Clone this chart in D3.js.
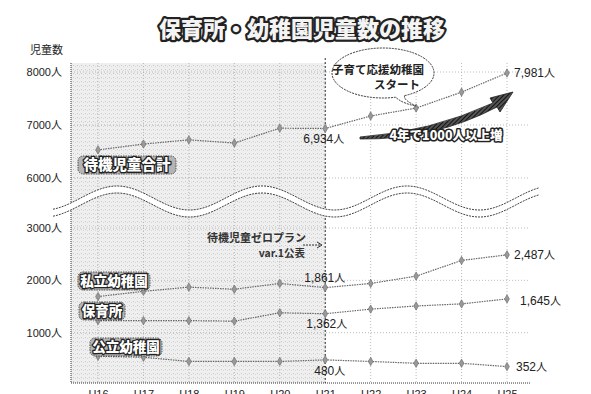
<!DOCTYPE html>
<html>
<head>
<meta charset="utf-8">
<script src="https://cdn.jsdelivr.net/npm/d3@7"></script>
<style>
  html, body { margin: 0; padding: 0; background: #fff; }
  svg { display: block; font-family: "Liberation Sans", "Noto Sans CJK JP", sans-serif; }
</style>
</head>
<body>
<svg id="chart" width="591" height="394"></svg>
<script>
// 年度（平成）
const years = ["H16", "H17", "H18", "H19", "H20", "H21", "H22", "H23", "H24", "H25"];

// 児童数（人）
const totalKids   = [6530, 6640, 6720, 6660, 6940, 6934, 7170, 7320, 7620, 7981];
const privateKg   = [1690, 1790, 1870, 1830, 1940, 1861, 1940, 2080, 2380, 2487];
const nursery     = [1230, 1230, 1230, 1220, 1380, 1362, 1450, 1510, 1550, 1645];
const publicKg    = [550, 530, 450, 450, 450, 480, 450, 415, 415, 352];

// 目盛り（省略線の上下で別）
const upperTicks = [6000, 7000, 8000];
const lowerTicks = [1000, 2000, 3000];

const seriesNames = ["待機児童合計", "私立幼稚園", "保育所", "公立幼稚園"];

const svg = d3.select("#chart");

const plotL = 71, plotR = 530, plotT = 63, plotB = 383;

const x = d3.scalePoint().domain(years).range([98, 507]);
const yTop = d3.scaleLinear().domain([6000, 8000]).range([178, 72]);
const yBot = d3.scaleLinear().domain([0, 3000]).range([385, 228]);

// 網掛け（H16〜H21）
const defs = svg.append("defs");
const grain = defs.append("pattern").attr("id", "grain")
  .attr("width", 4).attr("height", 4).attr("patternUnits", "userSpaceOnUse");
grain.append("rect").attr("width", 4).attr("height", 4).attr("fill", "#efefef");
grain.append("rect").attr("x", 1).attr("y", 1).attr("width", 1).attr("height", 1).attr("fill", "#c8c8c8");
grain.append("rect").attr("x", 3).attr("y", 2).attr("width", 1).attr("height", 1).attr("fill", "#d6d6d6");

const hatch = defs.append("pattern").attr("id", "hatch")
  .attr("width", 3).attr("height", 3).attr("patternUnits", "userSpaceOnUse")
  .attr("patternTransform", "rotate(45)");
hatch.append("rect").attr("width", 3).attr("height", 3).attr("fill", "#555");
hatch.append("rect").attr("width", 1).attr("height", 3).attr("fill", "#111");

svg.append("rect")
  .attr("x", plotL).attr("y", plotT)
  .attr("width", x("H21") - plotL).attr("height", plotB - plotT)
  .attr("fill", "url(#grain)");

// グリッド
const grid = svg.append("g").attr("stroke", "#aaa").attr("stroke-width", 0.8).attr("stroke-dasharray", "1,2");
grid.selectAll("line.v").data(years).join("line")
  .attr("x1", d => x(d)).attr("x2", d => x(d))
  .attr("y1", plotT).attr("y2", plotB);
grid.selectAll("line.hu").data(upperTicks).join("line")
  .attr("x1", plotL).attr("x2", plotR)
  .attr("y1", d => yTop(d)).attr("y2", d => yTop(d));
grid.selectAll("line.hl").data(lowerTicks).join("line")
  .attr("x1", plotL).attr("x2", plotR)
  .attr("y1", d => yBot(d)).attr("y2", d => yBot(d));

// 軸線
svg.append("line").attr("x1", plotL).attr("x2", plotL).attr("y1", plotT).attr("y2", plotB)
  .attr("stroke", "#333").attr("stroke-width", 1).attr("stroke-dasharray", "1,1");
svg.append("line").attr("x1", plotL).attr("x2", plotR).attr("y1", plotB).attr("y2", plotB)
  .attr("stroke", "#333").attr("stroke-width", 1).attr("stroke-dasharray", "1,1");

// H21 の基準線
svg.append("line").attr("x1", x("H21")).attr("x2", x("H21")).attr("y1", 58).attr("y2", plotB)
  .attr("stroke", "#333").attr("stroke-width", 1).attr("stroke-dasharray", "2,2");

// 目盛りラベル
const tickFmt = d => d + "人";
svg.append("g").attr("class", "yaxis").attr("transform", `translate(${plotL - 6},0)`)
  .call(d3.axisLeft(yTop).tickValues(upperTicks).tickFormat(tickFmt).tickSize(0))
  .call(g => g.select(".domain").remove());
svg.append("g").attr("class", "yaxis").attr("transform", `translate(${plotL - 6},0)`)
  .call(d3.axisLeft(yBot).tickValues(lowerTicks).tickFormat(tickFmt).tickSize(0))
  .call(g => g.select(".domain").remove());
svg.selectAll(".yaxis .tick text").attr("font-size", 11).attr("fill", "#222")
  .attr("font-family", "\"Liberation Sans\", \"Noto Sans CJK JP\", sans-serif");

svg.append("g").attr("transform", `translate(0,${plotB + 4})`)
  .call(d3.axisBottom(x).tickSize(0))
  .call(g => g.select(".domain").remove())
  .selectAll("text").attr("font-size", 11).attr("fill", "#222")
  .attr("font-family", "\"Liberation Sans\", sans-serif");

svg.append("text").attr("x", 30).attr("y", 54).attr("font-size", 11).attr("fill", "#222")
  .attr("font-family", "\"Noto Sans CJK JP\", sans-serif").text("児童数");

// 省略線（波線）
const waveXs = d3.range(53, 541, 2);
const waveY = (xx, off) => 198 + off - 12 * Math.cos(2 * Math.PI * (xx - 117) / 145);
const band = waveXs.map(xx => [xx, waveY(xx, 0)]).concat(waveXs.slice().reverse().map(xx => [xx, waveY(xx, 7)]));
svg.append("path").attr("d", d3.line()(band) + "Z").attr("fill", "#fff");
[0, 7].forEach(off => {
  svg.append("path")
    .attr("d", d3.line()(waveXs.map(xx => [xx, waveY(xx, off)])))
    .attr("fill", "none").attr("stroke", "#444").attr("stroke-width", 1)
    .attr("stroke-dasharray", "2,1");
});

// 折れ線
const series = [
  { name: seriesNames[0], values: totalKids, y: yTop },
  { name: seriesNames[1], values: privateKg, y: yBot },
  { name: seriesNames[2], values: nursery, y: yBot },
  { name: seriesNames[3], values: publicKg, y: yBot }
];
const diamond = d3.symbol().type(d3.symbolDiamond).size(20);
series.forEach(s => {
  const pts = s.values.map((v, i) => [x(years[i]), s.y(v)]);
  svg.append("path").attr("d", d3.line()(pts))
    .attr("fill", "none").attr("stroke", "#666").attr("stroke-width", 1.2)
    .attr("stroke-dasharray", "1.5,1");
  svg.append("g").selectAll("path").data(pts).join("path")
    .attr("d", diamond).attr("transform", d => `translate(${d[0]},${d[1]})`)
    .attr("fill", "#999").attr("stroke", "#666").attr("stroke-width", 0.6);
});

// 数値ラベル
const fmt = d3.format(",");
const valueLabels = [
  { s: 0, i: 9, dx: 7, dy: 4 },
  { s: 0, i: 5, dx: -22, dy: 15 },
  { s: 1, i: 5, dx: -21, dy: -6 },
  { s: 1, i: 9, dx: 7, dy: 4 },
  { s: 2, i: 5, dx: -19, dy: 14 },
  { s: 2, i: 9, dx: 13, dy: 6 },
  { s: 3, i: 5, dx: -11, dy: 15 },
  { s: 3, i: 9, dx: 9, dy: 4 }
];
valueLabels.forEach(l => {
  const s = series[l.s];
  const v = s.values[l.i];
  const t = svg.append("text")
    .attr("x", x(years[l.i]) + l.dx).attr("y", s.y(v) + l.dy)
    .attr("font-size", 12).attr("fill", "#222");
  t.append("tspan").text(fmt(v));
  t.append("tspan").attr("font-family", "\"Noto Sans CJK JP\", sans-serif").attr("font-size", 11).text("人");
});

// 系列名ラベル（袋文字）
function outlined(sel, size, sw) {
  return sel.attr("font-family", "\"Noto Sans CJK JP\", sans-serif").attr("font-weight", 900)
    .attr("font-size", size).attr("fill", "#fff").attr("stroke", "#222")
    .attr("stroke-width", sw).attr("stroke-linejoin", "round").attr("paint-order", "stroke");
}
const nameBoxes = [
  { name: seriesNames[0], cx: 127, cy: 165, size: 14.5, w: 98 },
  { name: seriesNames[1], cx: 114, cy: 281, size: 13.5, w: 72 },
  { name: seriesNames[2], cx: 102, cy: 311, size: 13.5, w: 46 },
  { name: seriesNames[3], cx: 126, cy: 347, size: 13.5, w: 72 }
];
nameBoxes.forEach(b => {
  svg.append("rect").attr("x", b.cx - b.w / 2).attr("y", b.cy - 9).attr("width", b.w).attr("height", 18)
    .attr("rx", 5).attr("fill", "#b4b4b4").attr("stroke", "#333").attr("stroke-width", 0.8)
    .attr("stroke-dasharray", "1.5,1");
  outlined(svg.append("text"), b.size, 2.6)
    .attr("x", b.cx).attr("y", b.cy + 5).attr("text-anchor", "middle").text(b.name);
});

// タイトル
outlined(svg.append("text"), 22, 4.5)
  .attr("x", 302).attr("y", 37).attr("text-anchor", "middle")
  .attr("fill", "#f4f4f4").text("保育所・幼稚園児童数の推移");

// 吹き出し
const bx = 383, by = 73;
svg.append("path")
  .attr("d", () => {
    const rx = 51, ry = 25;
    const a0 = Math.PI * 0.42, a1 = Math.PI * 0.36;
    const p0 = [bx + rx * Math.cos(a0), by + ry * Math.sin(a0)];
    const p1 = [bx + rx * Math.cos(a1), by + ry * Math.sin(a1)];
    const tip = [x("H23"), yTop(totalKids[7]) - 2];
    return `M${p1[0]},${p1[1]} A${rx},${ry} 0 1,0 ${p0[0]},${p0[1]}` +
      ` Q${p0[0] + 6},${p0[1] + 6} ${tip[0]},${tip[1]} Q${p1[0] - 2},${p1[1] + 4} ${p1[0]},${p1[1]}`;
  })
  .attr("fill", "#fff").attr("stroke", "#333").attr("stroke-width", 1).attr("stroke-dasharray", "2,1");
svg.append("text").attr("x", 378).attr("y", 74).attr("text-anchor", "middle")
  .attr("font-family", "\"Noto Sans CJK JP\", sans-serif").attr("font-size", 11.5).attr("font-weight", 700)
  .attr("fill", "#222").text("子育て応援幼稚園");
svg.append("text").attr("x", 420).attr("y", 89).attr("text-anchor", "end")
  .attr("font-family", "\"Noto Sans CJK JP\", sans-serif").attr("font-size", 11.5).attr("font-weight", 700)
  .attr("fill", "#222").text("スタート");

// 増加の矢印
svg.append("path")
  .attr("d", "M360,137 Q430,132 493,103 L490,98 L513,92 L500,112 L497,107 Q434,140 360,139 Z")
  .attr("fill", "url(#hatch)").attr("stroke", "#222").attr("stroke-width", 0.8);
outlined(svg.append("text"), 12.5, 3)
  .attr("x", 446).attr("y", 140).attr("text-anchor", "middle").text("4年で1000人以上増");

// 注記：待機児童ゼロプラン
svg.append("text").attr("x", 306).attr("y", 242).attr("text-anchor", "end")
  .attr("font-family", "\"Noto Sans CJK JP\", sans-serif").attr("font-size", 11).attr("font-weight", 700)
  .attr("fill", "#333").text("待機児童ゼロプラン");
svg.append("text").attr("x", 305).attr("y", 257).attr("text-anchor", "end")
  .attr("font-family", "\"Noto Sans CJK JP\", sans-serif").attr("font-size", 10.5).attr("font-weight", 700)
  .attr("fill", "#333").text("var.1公表");
svg.append("line").attr("x1", 303).attr("x2", 321).attr("y1", 245).attr("y2", 245)
  .attr("stroke", "#333").attr("stroke-dasharray", "2,1");
svg.append("path").attr("d", "M317,242 L322,245 L317,248").attr("fill", "none").attr("stroke", "#333");
</script>
</body>
</html>
